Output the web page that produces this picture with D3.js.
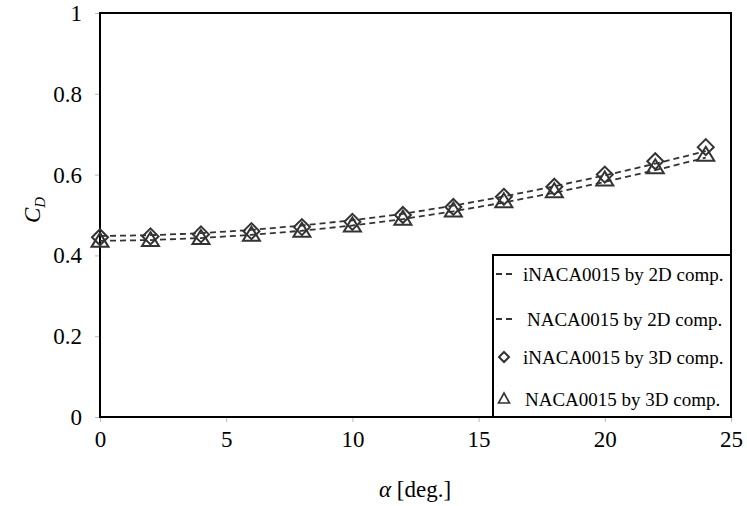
<!DOCTYPE html>
<html>
<head>
<meta charset="utf-8">
<script src="https://cdn.jsdelivr.net/npm/d3@7"></script>
<style>
  body { margin: 0; background: #fff; }
  svg text { fill: #000; }
</style>
</head>
<body>
<div class="chart"></div>
<script>
// angle of attack (deg)
var alpha = [0, 2, 4, 6, 8, 10, 12, 14, 16, 18, 20, 22, 24];
// 2D computations (dashed lines)
var iNaca2D = [0.448, 0.450, 0.455, 0.463, 0.474, 0.487, 0.503, 0.523, 0.546, 0.571, 0.598, 0.627, 0.658];
var naca2D  = [0.436, 0.438, 0.443, 0.451, 0.461, 0.474, 0.490, 0.509, 0.531, 0.555, 0.582, 0.611, 0.642];
// 3D computations (markers)
var iNaca3D = [0.445, 0.447, 0.452, 0.460, 0.470, 0.483, 0.500, 0.520, 0.545, 0.570, 0.600, 0.633, 0.668];
var naca3D  = [0.435, 0.437, 0.442, 0.450, 0.460, 0.473, 0.490, 0.510, 0.533, 0.558, 0.587, 0.617, 0.648];

var xTicks = [0, 5, 10, 15, 20, 25];
var yTicks = [0, 0.2, 0.4, 0.6, 0.8, 1];
var legendLabels = ["iNACA0015 by 2D comp.", "NACA0015 by 2D comp.", "iNACA0015 by 3D comp.", "NACA0015 by 3D comp."];

var W = 747, H = 506;
var margin = {top: 13, left: 100, right: 16, bottom: 89};
var width = W - margin.left - margin.right;
var height = H - margin.top - margin.bottom;
var serif = "'Liberation Serif', 'DejaVu Serif', serif";

var svg = d3.select(".chart")
  .append("svg")
  .attr("width", W)
  .attr("height", H);

var g = svg.append("g")
  .attr("transform", "translate(" + margin.left + "," + margin.top + ")");

var x = d3.scaleLinear().domain([0, 25]).range([0, width]);
var y = d3.scaleLinear().domain([0, 1]).range([height, 0]);

// axes
var xAxis = g.append("g")
  .attr("transform", "translate(0," + height + ")")
  .call(d3.axisBottom(x).tickValues(xTicks).tickSize(5).tickPadding(9));
var yAxis = g.append("g")
  .call(d3.axisLeft(y).tickValues(yTicks).tickSize(5).tickPadding(13).tickFormat(d3.format("")));

[xAxis, yAxis].forEach(function(a) {
  a.attr("font-family", serif).attr("font-size", 23);
  a.select(".domain").remove();
  a.selectAll(".tick line").attr("stroke", "#bbb");
  a.selectAll(".tick text").attr("fill", "#000");
});
yAxis.selectAll(".tick text").attr("dy", "0.33em");

// frame
g.append("rect")
  .attr("x", 0).attr("y", 0)
  .attr("width", width).attr("height", height)
  .attr("fill", "none")
  .attr("stroke", "#000")
  .attr("stroke-width", 2);

// dashed lines
var line = d3.line()
  .x(function(d, i) { return x(alpha[i]); })
  .y(function(d) { return y(d); });

[iNaca2D, naca2D].forEach(function(s) {
  g.append("path")
    .datum(s)
    .attr("d", line)
    .attr("fill", "none")
    .attr("stroke", "#333")
    .attr("stroke-width", 1.8)
    .attr("stroke-dasharray", "6,4");
});

function diamond(r) {
  return "M0," + (-r) + "L" + r + ",0L0," + r + "L" + (-r) + ",0Z";
}
function triangle(w, h) {
  return "M0," + (-h * 0.6) + "L" + (w / 2) + "," + (h * 0.4) + "L" + (-w / 2) + "," + (h * 0.4) + "Z";
}

g.append("g").selectAll("path")
  .data(iNaca3D)
  .enter()
  .append("path")
  .attr("d", diamond(8))
  .attr("transform", function(d, i) { return "translate(" + x(alpha[i]) + "," + y(d) + ")"; })
  .attr("fill", "none")
  .attr("stroke", "#333")
  .attr("stroke-width", 2);

g.append("g").selectAll("path")
  .data(naca3D)
  .enter()
  .append("path")
  .attr("d", triangle(17, 14))
  .attr("transform", function(d, i) { return "translate(" + x(alpha[i]) + "," + y(d) + ")"; })
  .attr("fill", "none")
  .attr("stroke", "#333")
  .attr("stroke-width", 2);

// legend
var legend = svg.append("g").attr("transform", "translate(493,255)");
legend.append("rect")
  .attr("x", 0).attr("y", 0)
  .attr("width", 238).attr("height", 162)
  .attr("fill", "#fff")
  .attr("stroke", "#000")
  .attr("stroke-width", 2);

var rowY = [19, 64, 102, 144];
var textX = [30, 34, 30, 32];

legend.selectAll(".legend-text")
  .data(legendLabels)
  .enter()
  .append("text")
  .attr("class", "legend-text")
  .attr("x", function(d, i) { return textX[i]; })
  .attr("y", function(d, i) { return rowY[i]; })
  .attr("dy", "0.35em")
  .attr("font-family", serif)
  .style("font-size", "19px")
  .text(function(d) { return d; });

[0, 1].forEach(function(i) {
  legend.append("line")
    .attr("x1", 3).attr("x2", 21)
    .attr("y1", rowY[i]).attr("y2", rowY[i])
    .attr("stroke", "#333")
    .attr("stroke-width", 1.8)
    .attr("stroke-dasharray", "6,4");
});
legend.append("path")
  .attr("d", diamond(5))
  .attr("transform", "translate(11," + rowY[2] + ")")
  .attr("fill", "none").attr("stroke", "#333").attr("stroke-width", 2);
legend.append("path")
  .attr("d", triangle(11, 10))
  .attr("transform", "translate(11," + rowY[3] + ")")
  .attr("fill", "none").attr("stroke", "#333").attr("stroke-width", 1.6);

// axis titles
var xt = svg.append("text")
  .attr("x", 415)
  .attr("y", 497)
  .attr("text-anchor", "middle")
  .attr("font-family", serif)
  .style("font-size", "23px");
xt.append("tspan").style("font-style", "italic").text("α");
xt.append("tspan").text(" [deg.]");

var yt = svg.append("text")
  .attr("transform", "translate(40,210) rotate(-90)")
  .attr("text-anchor", "middle")
  .attr("font-family", serif)
  .style("font-size", "23px")
  .style("font-style", "italic");
yt.append("tspan").text("C");
yt.append("tspan").attr("dy", 5).style("font-size", "15px").text("D");
</script>
</body>
</html>
